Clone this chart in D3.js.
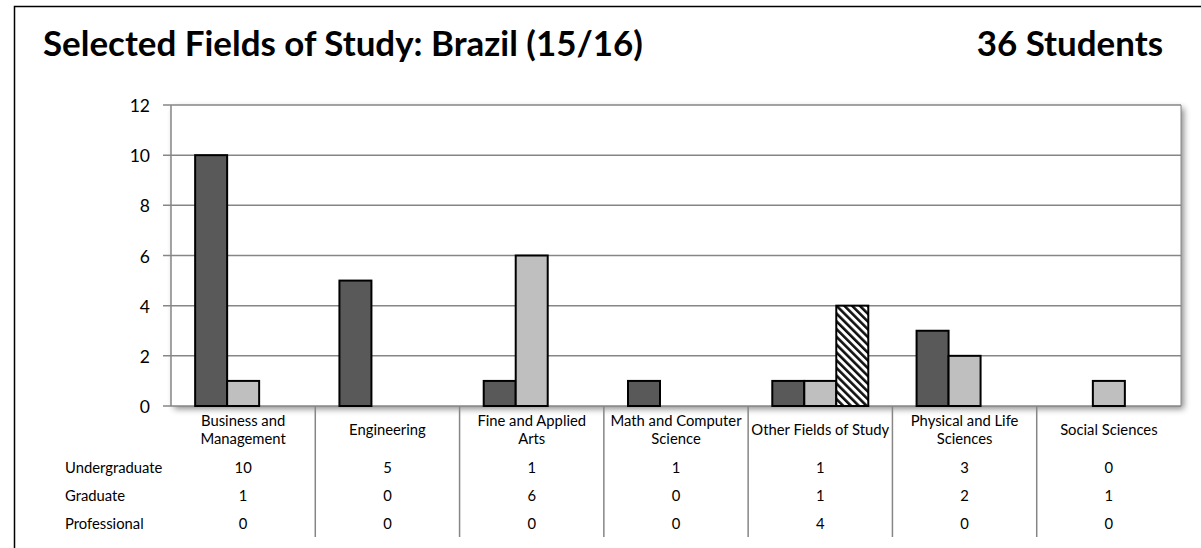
<!DOCTYPE html>
<html><head><meta charset="utf-8">
<script src="https://cdn.jsdelivr.net/npm/d3@7"></script>
<style>body{margin:0;background:#fff}svg{display:block;font-family:Lato,"Open Sans",sans-serif}</style>
</head><body>
<svg id="c" width="1201" height="548"></svg>
<script>
const categories = [["Business and","Management"],["Engineering"],["Fine and Applied","Arts"],["Math and Computer","Science"],["Other Fields of Study"],["Physical and Life","Sciences"],["Social Sciences"]];
const seriesNames = ["Undergraduate","Graduate","Professional"];
const undergraduate = [10,5,1,1,1,3,0];
const graduate = [1,0,6,0,1,2,1];
const professional = [0,0,0,0,4,0,0];
const yTicks = [0,2,4,6,8,10,12];
const titlePrefix = "Selected Fields of Study: Brazil";
const titleSuffix = " (15/16)";
const total = "36 Students";

const series = [undergraduate, graduate, professional];
const svg = d3.select("#c");
const defs = svg.append("defs");
const pat = defs.append("pattern").attr("id","hatch").attr("patternUnits","userSpaceOnUse").attr("width",5.5).attr("height",5.5).attr("patternTransform","rotate(-45)");
pat.append("rect").attr("width",5.5).attr("height",5.5).attr("fill","#fff");
pat.append("rect").attr("x",0).attr("width",2.6).attr("height",5.5).attr("fill","#111");
const flt = defs.append("filter").attr("id","sh").attr("x","-5%").attr("y","-5%").attr("width","115%").attr("height","120%");
flt.append("feDropShadow").attr("dx",3).attr("dy",3).attr("stdDeviation",3).attr("flood-color","#000").attr("flood-opacity",0.45);

function fitSize(text, target, weight){
  const t = svg.append("text").attr("font-size",100).attr("font-weight",weight||"normal").text(text);
  const w = t.node().getComputedTextLength(); t.remove();
  return 100*target/w;
}

svg.append("rect").attr("x",14.5).attr("y",6.5).attr("width",1300).attr("height",600).attr("fill","none").attr("stroke","#000").attr("stroke-width",1.5);

const tsize = fitSize(titlePrefix, 475, "bold");
svg.append("text").attr("x",43).attr("y",56).attr("font-size",tsize).attr("font-weight","bold").text(titlePrefix+titleSuffix);
svg.append("text").attr("x",1163).attr("y",56).attr("text-anchor","end").attr("font-size",tsize).attr("font-weight","bold").text(total);

const L=171, R=1181, T=105, B=406;
const x = d3.scaleBand().domain(d3.range(categories.length)).range([L,R]);
const y = d3.scaleLinear().domain([0,12]).range([B,T]);
const xs = d3.scaleBand().domain(d3.range(3)).range([0,96]);

svg.append("rect").attr("x",L).attr("y",T).attr("width",R-L).attr("height",B-T).attr("fill","#fff").attr("filter","url(#sh)");
svg.append("g").selectAll("line").data(yTicks).join("line")
  .attr("x1",L-8).attr("x2",R).attr("y1",d=>y(d)).attr("y2",d=>y(d)).attr("stroke","#868686").attr("stroke-width",1.5);
svg.append("line").attr("x1",L).attr("x2",L).attr("y1",T).attr("y2",B).attr("stroke","#868686").attr("stroke-width",1.5);
svg.append("line").attr("x1",R).attr("x2",R).attr("y1",T).attr("y2",B).attr("stroke","#868686").attr("stroke-width",1);
svg.append("g").selectAll("text").data(yTicks).join("text")
  .attr("x",150).attr("y",d=>y(d)+7).attr("text-anchor","end").attr("font-size",17.5).attr("fill","#000").text(d=>d);

const fills = ["#595959","#bfbfbf","url(#hatch)"];
series.forEach((s,si)=>{
  svg.append("g").selectAll("rect").data(s.map((v,i)=>({v,i}))).join("rect")
    .filter(d=>d.v>0)
    .attr("x",d=>x(d.i)+x.bandwidth()/2-48+xs(si))
    .attr("y",d=>y(d.v))
    .attr("width",xs.bandwidth())
    .attr("height",d=>B-y(d.v))
    .attr("fill",fills[si]).attr("stroke","#000").attr("stroke-width",2);
});

const fs = fitSize("Other Fields of Study", 138);
const tbl = svg.append("g").attr("font-size",fs).attr("fill","#000");
d3.range(1,categories.length).forEach(i=>{
  tbl.append("line").attr("x1",x(i)).attr("x2",x(i)).attr("y1",B).attr("y2",537).attr("stroke","#868686").attr("stroke-width",1.5);
});
categories.forEach((c,i)=>{
  const cx = x(i)+x.bandwidth()/2;
  const t = tbl.append("text").attr("text-anchor","middle");
  if(c.length===1){ t.append("tspan").attr("x",cx).attr("y",435).text(c[0]); }
  else { t.append("tspan").attr("x",cx).attr("y",426).text(c[0]); t.append("tspan").attr("x",cx).attr("y",444).text(c[1]); }
});
const rowY=[473,501,529];
seriesNames.forEach((n,si)=>{
  tbl.append("text").attr("x",65).attr("y",rowY[si]).text(n);
  series[si].forEach((v,i)=>{
    tbl.append("text").attr("x",x(i)+x.bandwidth()/2).attr("y",rowY[si]).attr("text-anchor","middle").text(v);
  });
});
</script></body></html>
